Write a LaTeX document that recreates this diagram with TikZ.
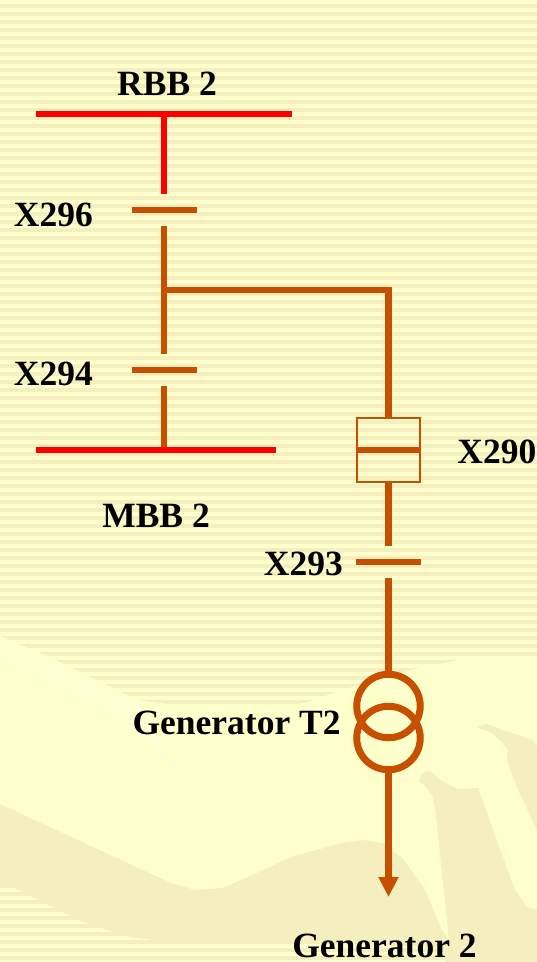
\documentclass[tikz,border=0pt]{standalone}
\usepackage{fontspec}
\setmainfont{Liberation Serif}
\usetikzlibrary{
    arrows.meta, % for the arrow tip at the generator
    positioning % for placing nodes relative to other nodes
}
\definecolor{paper}{HTML}{FFFFCC}
\definecolor{sand}{HTML}{F5EFBF}
\definecolor{glow}{HTML}{FFFFD3}
\definecolor{feeder}{HTML}{C64F00}

\begin{document}
\begin{tikzpicture}[
        x=1pt,y=-1pt,on grid,
        bus/.style    = {fill=red,minimum width=#1,minimum height=6.5pt,inner sep=0pt,outer sep=0pt},
        blade/.style  = {fill=feeder,minimum width=65pt,minimum height=6.5pt,inner sep=0pt,outer xsep=0pt,outer ysep=12.75pt},
        breaker/.style = {draw=feeder,line width=2pt,minimum size=63.5pt,inner sep=0pt,outer sep=0pt},
        coil/.style   = {circle,draw=feeder,line width=7pt,minimum size=63.5pt,inner sep=0pt,outer sep=0pt},
        tag/.style    = {font=\bfseries\fontsize{35.5}{36}\selectfont,text height=23pt,text depth=0pt,inner sep=0pt},
        live/.style   = {draw=red,line width=6.5pt},
        feed/.style   = {draw=feeder,line width=6.5pt}
    ]
    \useasboundingbox (0,0) rectangle (537,962);

    % background
    \fill [paper] (0,0) rectangle (537,962);
    \foreach \y in {0,8,...,960}
        \fill [sand] (0,\y+4) rectangle (537,\y+8);
    \fill [paper] (0,636) -- (45,655) -- (103,683) -- (137,700) -- (200,708) -- (274,708) -- (308,702)
        -- (342,690) -- (411,670) -- (459,660) -- (537,657) -- (537,920) -- (449,945) -- (0,850) -- cycle;
    \fill [glow] (0,637) -- (45,656) -- (103,684) -- (137,701) -- (173,763) -- (200,790) -- (120,720) -- (0,658) -- cycle;
    \fill [sand] (0,804) -- (171,883) -- (195,890) -- (223,888) -- (257,873) -- (291,857) -- (342,843)
        -- (363,840) -- (383,843) -- (404,860) -- (425,890) -- (442,930) -- (449,940) -- (435,807)
        -- (432,795) -- (425,785) -- (419,782) -- (422,773) -- (430,771) -- (440,780) -- (458,789)
        -- (478,788) -- (515,890) -- (527,907) -- (537,910) -- (537,962) -- (445,962) -- (445,948)
        -- (270,940) -- (200,943) -- (167,942) -- (130,937) -- (107,930) -- (83,922) -- (63,912)
        -- (43,902) -- (25,893) -- (13,887) -- (0,886) -- cycle;
    \fill [sand] (477,727) -- (487,724) -- (503,730) -- (533,740) -- (537,747) -- (537,830) -- (517,787)
        -- (507,760) -- (508,750) -- (503,743) -- (490,732) -- cycle;

    % busbars and disconnectors
    \node [bus=256pt] (rbb) at (164,114) [label={[tag,label distance=15.5pt,xshift=3pt]above:RBB 2}] {};
    \node [blade] (x296) [below=96pt of rbb] [label={[tag,label distance=38.5pt,yshift=-4.5pt]left:X296}] {};
    \coordinate (tee) at (164,290);
    \node [blade] (x294) [below=160pt of x296] [label={[tag,label distance=38.5pt,yshift=-4pt]left:X294}] {};
    \node [bus=240pt] (mbb) at (156,450) [label={[tag,label distance=51pt]below:MBB 2}] {};

    % generator feeder
    \coordinate (corner) at (388.5,290);
    \node [breaker] (x290) at (388.5,450) [label={[tag,label distance=37pt,yshift=-2pt]right:X290}] {};
    \node [blade] (x293) [below=112pt of x290] [label={[tag,label distance=13pt,yshift=-2pt]left:X293}] {};
    \node [coil] (t2a) [below=144pt of x293] [label={[tag,label distance=16pt,yshift=-17pt]left:Generator T2}] {};
    \node [coil] (t2b) [below=32pt of t2a] {};
    \coordinate [below=159pt of t2b,label={[tag,label distance=37pt,xshift=-4pt]below:Generator 2}] (gen);

    \draw [live] (rbb) -- (x296.north);
    \draw [feed] (x296.south) -- (tee) -- (x294.north);
    \draw [feed] (x294.south) -- (mbb.north -| x294.south);
    \draw [feed] (tee) -- (corner) -- (x290.north);
    \draw [feed] (x290.west) -- (x290.east);
    \draw [feed] (x290.south) -- (x293.north);
    \draw [feed] (x293.south) -- (t2a.north);
    \draw [feed,-{Triangle[length=20pt,width=19pt]}] (t2b.south) -- (gen);
\end{tikzpicture}
\end{document}
